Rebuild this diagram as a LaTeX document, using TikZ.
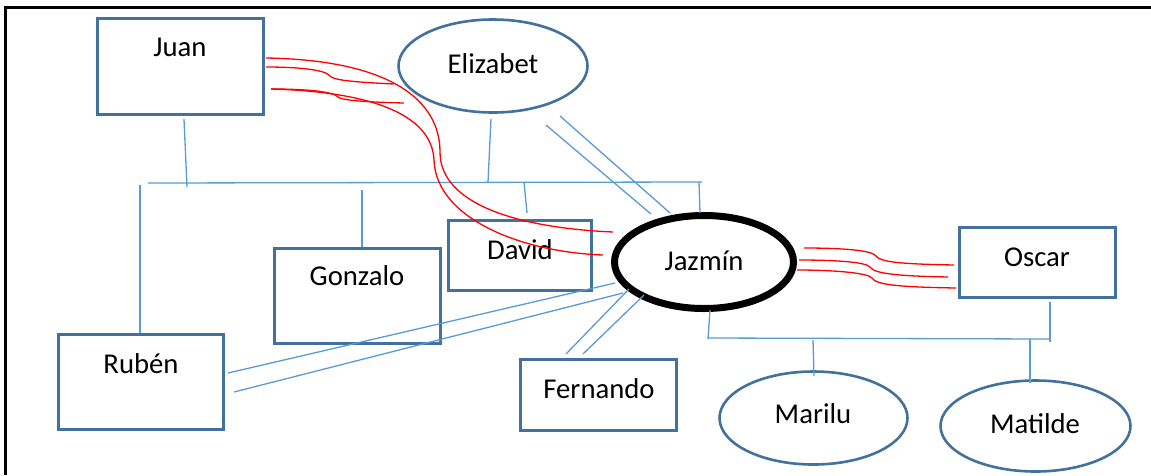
\documentclass[tikz,border=0pt]{standalone}
\usepackage{fontspec}
\setmainfont{Carlito}
\usetikzlibrary{shapes.geometric}
\definecolor{boxcol}{RGB}{65,113,156}
\definecolor{conncol}{RGB}{91,155,213}
\definecolor{redcol}{RGB}{255,0,0}
\tikzset{
  personbox/.style={draw=boxcol, line width=3pt, rectangle, inner sep=0pt, fill=white},
  personell/.style={draw=boxcol, line width=2.6pt, ellipse, inner sep=0pt, fill=white},
  egoell/.style={draw=black, line width=7pt, ellipse, inner sep=0pt, fill=white},
  lbl/.style={anchor=base, inner sep=0pt, font=\fontsize{28.7}{34}\selectfont},
  conn/.style={draw=conncol, line width=1.3pt},
  redline/.style={draw=redcol, line width=1.3pt},
  frameline/.style={draw=black, line width=3pt}
}
\begin{document}
\begin{tikzpicture}[x=1pt,y=-1pt]
\useasboundingbox (0,0) rectangle (1151,475);
\fill[white] (0,0) rectangle (1151,475);
% frame
\coordinate (fa) at (5,475);
\coordinate (fb) at (5,7);
\coordinate (fc) at (1151,7);
\draw[frameline] (fa) -- (fb) -- (fc);

% shapes
\node[personbox, minimum width=166pt, minimum height=96pt] (juan) at (180.5,66.5) {};
\node[personbox, minimum width=165pt, minimum height=95pt] (ruben) at (141,382) {};
\node[personbox, minimum width=166pt, minimum height=95pt] (gonzalo) at (357.5,296) {};
\node[personbox, minimum width=143pt, minimum height=70pt] (david) at (520,255.5) {};
\node[personbox, minimum width=156pt, minimum height=71pt] (fernando) at (598.5,395) {};
\node[personbox, minimum width=156pt, minimum height=70pt] (oscar) at (1037.5,262.5) {};
\node[personell, minimum width=189pt, minimum height=93pt] (elizabet) at (493,66) {};
\node[personell, minimum width=188pt, minimum height=93pt] (marilu) at (813.5,418) {};
\node[personell, minimum width=190pt, minimum height=91pt] (matilde) at (1035.5,426) {};
\node[egoell, minimum width=179pt, minimum height=93pt] (jazmin) at (704,262) {};

% labels
\node[lbl] (tjuan) at (180,56) {Juan};
\node[lbl] (telizabet) at (493,73) {Elizabet};
\node[lbl] (tjazmin) at (704,270) {Jazmín};
\node[lbl] (toscar) at (1037,266) {Oscar};
\node[lbl] (tdavid) at (520,259) {David};
\node[lbl] (tgonzalo) at (357,285) {Gonzalo};
\node[lbl] (truben) at (141,373) {Rubén};
\node[lbl] (tfernando) at (599,398) {Fernando};
\node[lbl] (tmarilu) at (813,423) {Marilu};
\node[lbl] (tmatilde) at (1035,433) {Matilde};

% connector coordinates
\coordinate (busAl) at (148,183);
\coordinate (busAr) at (702,182);
\coordinate (juanD) at (184,119);
\coordinate (juanB) at (187,187);
\coordinate (elizD) at (491,119);
\coordinate (elizB) at (488,182);
\coordinate (rubB) at (140,185);
\coordinate (rubU) at (140,333);
\coordinate (gonB) at (362,190);
\coordinate (gonU) at (362,247);
\coordinate (davB) at (524,182);
\coordinate (davU) at (527,213);
\coordinate (jazB) at (699,182);
\coordinate (jazU) at (700,213);
\coordinate (ej1a) at (546,125);
\coordinate (ej1b) at (651,214);
\coordinate (ej2a) at (560,116);
\coordinate (ej2b) at (670,213);
\coordinate (rj1a) at (228,373);
\coordinate (rj1b) at (615,283);
\coordinate (rj2a) at (234,392);
\coordinate (rj2b) at (623,293);
\coordinate (fj1a) at (566,354);
\coordinate (fj1b) at (629,289);
\coordinate (fj2a) at (583,354);
\coordinate (fj2b) at (644,295);
\coordinate (busBl) at (708,338);
\coordinate (busBr) at (1049,339);
\coordinate (jazD) at (710,310);
\coordinate (jazBB) at (708,339);
\coordinate (oscD) at (1050,302);
\coordinate (oscB) at (1050,342);
\coordinate (marB) at (813,340);
\coordinate (marU) at (814,376);
\coordinate (matB) at (1030,339);
\coordinate (matU) at (1030,383);

% blue connectors
\draw[conn] (busAl) -- (busAr);
\draw[conn] (juanD) -- (juanB);
\draw[conn] (elizD) -- (elizB);
\draw[conn] (rubB) -- (rubU);
\draw[conn] (gonB) -- (gonU);
\draw[conn] (davB) -- (davU);
\draw[conn] (jazB) -- (jazU);
\draw[conn] (ej1a) -- (ej1b);
\draw[conn] (ej2a) -- (ej2b);
\draw[conn] (rj1a) -- (rj1b);
\draw[conn] (rj2a) -- (rj2b);
\draw[conn] (fj1a) -- (fj1b);
\draw[conn] (fj2a) -- (fj2b);
\draw[conn] (busBl) -- (busBr);
\draw[conn] (jazD) -- (jazBB);
\draw[conn] (oscD) -- (oscB);
\draw[conn] (marB) -- (marU);
\draw[conn] (matB) -- (matU);

% red connectors Juan - Jazmin
\coordinate (ra0) at (266,58);
\coordinate (ra1) at (440,152);
\coordinate (ra2) at (613,232);
\draw[redline] (ra0) .. controls (390,60) and (440,100) .. (ra1)
  .. controls (440,205) and (520,228) .. (ra2);
\coordinate (rd0) at (271,89);
\coordinate (rd1) at (434,160);
\coordinate (rd2) at (603,255);
\draw[redline] (rd0) .. controls (380,92) and (432,118) .. (rd1)
  .. controls (436,218) and (520,252) .. (rd2);
\coordinate (rb0) at (266,67);
\coordinate (rb1) at (330,76);
\coordinate (rb2) at (394,84);
\draw[redline] (rb0) .. controls (300,67) and (326,70) .. (rb1)
  .. controls (333,80) and (352,82) .. (rb2);
\coordinate (rc0) at (271,89);
\coordinate (rc1) at (338,97);
\coordinate (rc2) at (404,103);
\draw[redline] (rc0) .. controls (310,89) and (334,92) .. (rc1)
  .. controls (341,100) and (362,102) .. (rc2);

% red connectors Jazmin - Oscar
\coordinate (ro1a) at (804,248);
\coordinate (ro1m) at (876,256);
\coordinate (ro1b) at (954,265);
\draw[redline] (ro1a) .. controls (840,248) and (872,250) .. (ro1m)
  .. controls (880,262) and (900,264) .. (ro1b);
\coordinate (ro2a) at (799,260);
\coordinate (ro2m) at (870,267);
\coordinate (ro2b) at (948,277);
\draw[redline] (ro2a) .. controls (835,260) and (866,262) .. (ro2m)
  .. controls (874,274) and (900,276) .. (ro2b);
\coordinate (ro3a) at (797,270);
\coordinate (ro3m) at (872,278);
\coordinate (ro3b) at (956,288);
\draw[redline] (ro3a) .. controls (835,270) and (868,273) .. (ro3m)
  .. controls (876,285) and (900,287) .. (ro3b);
\end{tikzpicture}
\end{document}
